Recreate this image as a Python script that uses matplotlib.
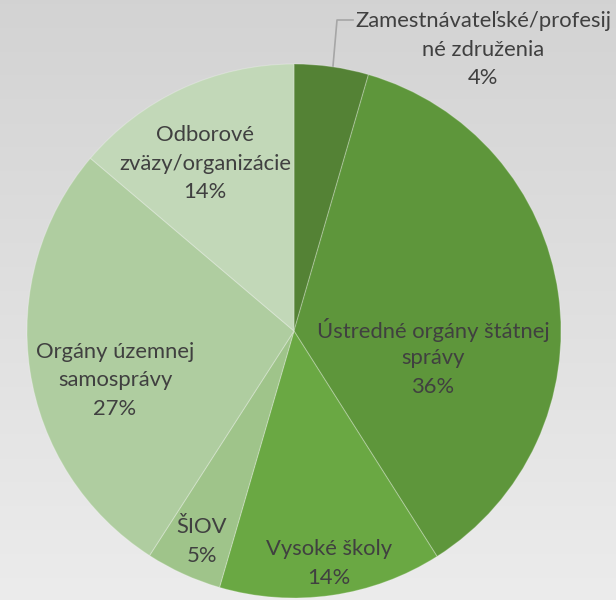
import numpy as np
import matplotlib.pyplot as plt

# Data
labels = [
    "Zamestnávateľské/profesij\nné združenia",
    "Ústredné orgány štátnej\nsprávy",
    "Vysoké školy",
    "ŠIOV",
    "Orgány územnej\nsamosprávy",
    "Odborové\nzväzy/organizácie",
]
shares = [4.5, 36.5, 13.5, 4.6, 27.1, 13.8]     # slice sizes
pct_text = ["4%", "36%", "14%", "5%", "27%", "14%"]
colors = ["#548235", "#5e963b", "#6aa843", "#9fc48a", "#afcda0", "#c2d8b8"]

# label centres in pixel coords (x, y of first line), measured from top
label_pos = [(483, 21), (433, 330), (329, 549), (202, 527), (115, 352), (205, 135)]

W, H = 616, 600
plt.rcParams['font.family'] = ['Lato', 'DejaVu Sans']

fig = plt.figure(figsize=(W / 100, H / 100), dpi=100)
ax = fig.add_axes([0, 0, 1, 1])

# background gradient (darker at the top)
grad = np.linspace(0, 1, 256).reshape(-1, 1)
top = np.array([0.827, 0.827, 0.827])
bottom = np.array([0.925, 0.925, 0.925])
img = top + (bottom - top) * grad[:, :, None] * np.ones((1, 1, 3))
ax.imshow(img, extent=[0, W, 0, H], origin="upper", aspect="auto", zorder=0)

cx, cy, r = 294, H - 331, 267
ax.pie(shares, colors=colors, startangle=90, counterclock=False,
       center=(cx, cy), radius=r, frame=True,
       wedgeprops=dict(edgecolor=(1, 1, 1, 0.25), linewidth=0.8))
ax.set_xlim(0, W)
ax.set_ylim(0, H)
ax.set_aspect("equal")
ax.axis("off")

line_h = 28.5
for lab, pct, (x, y) in zip(labels, pct_text, label_pos):
    lines = lab.split("\n") + [pct]
    for i, t in enumerate(lines):
        ax.text(x, H - (y + i * line_h), t, ha="center", va="center",
                fontsize=15.8, color="#404040", zorder=5)

# leader line for the small slice
ax.plot([353, 337, 333], [H - 20, H - 20, H - 66], color="#a6a6a6", lw=1.2, zorder=4)

fig.savefig("out.png", dpi=100)
